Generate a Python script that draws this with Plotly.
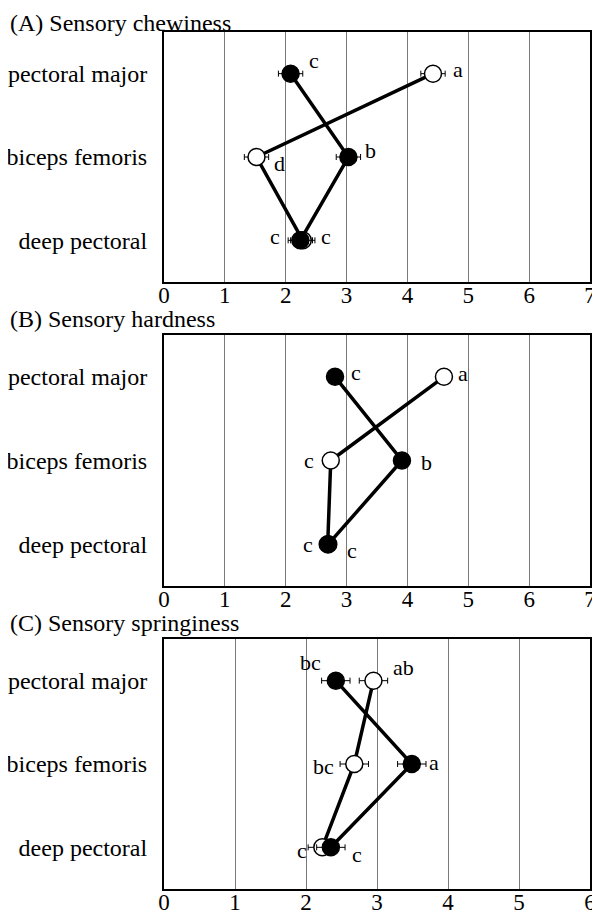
import plotly.graph_objects as go

muscles = ["pectoral major", "biceps femoris", "deep pectoral"]
panel_titles = ["(A) Sensory chewiness", "(B) Sensory hardness", "(C) Sensory springiness"]

# filled circles / open circles, one pair per panel
chew_filled = [2.08, 3.03, 2.24]
chew_open = [4.42, 1.52, 2.28]
chew_filled_err = [0.2, 0.2, 0.2]
chew_open_err = [0.2, 0.2, 0.2]
chew_filled_lbl = ["c", "b", "c"]
chew_open_lbl = ["a", "d", "c"]

hard_filled = [2.81, 3.91, 2.70]
hard_open = [4.60, 2.74, 2.69]
hard_filled_lbl = ["c", "b", "c"]
hard_open_lbl = ["a", "c", "c"]

spring_filled = [2.42, 3.49, 2.35]
spring_open = [2.95, 2.68, 2.23]
spring_filled_err = [0.2, 0.2, 0.2]
spring_open_err = [0.2, 0.2, 0.2]
spring_filled_lbl = ["bc", "a", "c"]
spring_open_lbl = ["ab", "bc", "c"]

x_max = [7, 7, 6]

# label offsets in px (dx, dy) - purely placement
off_filled = [[(23, 13), (22, 7), (-25, 4)],
              [(21, 4), (25, -2), (-20, 0)],
              [(-25, 18), (22, 2), (26, -7)]]
off_open = [[(25, 4), (23, -6), (23, 4)],
            [(19, 3), (-22, 0), (24, -6)],
            [(30, 13), (-31, -2), (-20, -3)]]

panels = [
    (chew_filled, chew_open, chew_filled_err, chew_open_err, chew_filled_lbl, chew_open_lbl),
    (hard_filled, hard_open, None, None, hard_filled_lbl, hard_open_lbl),
    (spring_filled, spring_open, spring_filled_err, spring_open_err, spring_filled_lbl, spring_open_lbl),
]

# page body has an 8px margin, so the figure is a bit smaller than the window
PAD = 8
W, H = 600 - PAD, 914 - PAD
box_x = (164, 590)
box_y = [(32, 282), (335, 586), (639, 889)]
title_bottom = [None, 334, 638]
FONT = "Liberation Serif"


def px_x(v):
    return (v - PAD) / W


def px_y(v):
    return 1 - (v - PAD) / H


fig = go.Figure()
annotations = []
layout = {}

for i, (f_vals, o_vals, f_err, o_err, f_lbl, o_lbl) in enumerate(panels):
    n = "" if i == 0 else str(i + 1)
    xa, ya = "x" + n, "y" + n
    for vals, err, fill in [(o_vals, o_err, "white"), (f_vals, f_err, "black")]:
        fig.add_trace(go.Scatter(
            x=vals, y=muscles, xaxis=xa, yaxis=ya, mode="lines+markers",
            line=dict(color="black", width=3.5),
            marker=dict(size=17, color=fill, line=dict(color="black", width=1.5)),
            error_x=dict(type="data", array=err, color="black", thickness=1, width=3,
                         visible=err is not None),
            showlegend=False, cliponaxis=False,
        ))
    for vals, lbls, offs in [(f_vals, f_lbl, off_filled[i]), (o_vals, o_lbl, off_open[i])]:
        for v, m, t, (dx, dy) in zip(vals, muscles, lbls, offs):
            annotations.append(dict(x=v, y=m, xref=xa, yref=ya, text=t, showarrow=False,
                                    xshift=dx, yshift=dy,
                                    font=dict(family=FONT, size=22, color="black")))
    top, bot = box_y[i]
    layout["xaxis" + n] = dict(
        domain=[px_x(box_x[0]), px_x(box_x[1])], anchor=ya, range=[0, x_max[i]], dtick=1,
        showgrid=True, gridcolor="#7a7a7a", gridwidth=1, zeroline=False,
        showline=True, linecolor="black", linewidth=2, mirror=True, ticks="", ticklen=0,
        tickfont=dict(family=FONT, size=23, color="black"), ticklabelstandoff=-9,
        ticklabeloverflow="allow", automargin=False,
    )
    layout["yaxis" + n] = dict(
        domain=[px_y(bot), px_y(top)], anchor=xa, type="category",
        categoryorder="array", categoryarray=muscles, range=[2.5, -0.5],
        showgrid=False, zeroline=False, showline=True, linecolor="black",
        linewidth=2, mirror=True, ticks="", ticklen=0, ticklabelstandoff=10,
        tickfont=dict(family=FONT, size=24, color="black"), automargin=False,
    )
    if title_bottom[i] is None:
        ty, yanc = 1.0, "top"
    else:
        ty, yanc = px_y(title_bottom[i]), "bottom"
    annotations.append(dict(x=0, y=ty, xref="paper", yref="paper",
                            xanchor="left", yanchor=yanc, text=panel_titles[i],
                            showarrow=False, font=dict(family=FONT, size=24, color="black")))

fig.update_layout(
    width=W, height=H, margin=dict(l=0, r=0, t=0, b=0),
    plot_bgcolor="white", paper_bgcolor="white",
    annotations=annotations, **layout,
)

fig.write_html("out.html")
